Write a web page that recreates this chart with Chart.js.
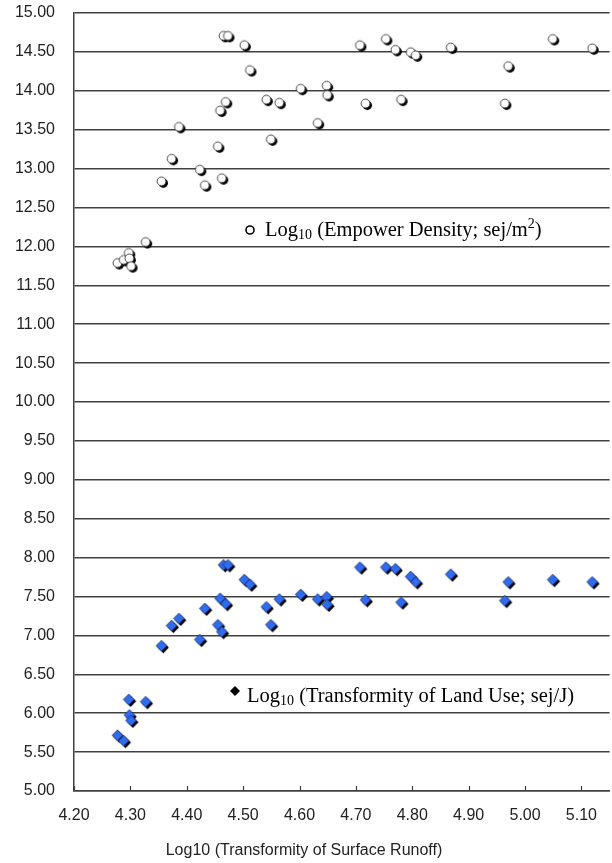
<!DOCTYPE html>
<html>
<head>
<meta charset="utf-8">
<script src="https://cdn.jsdelivr.net/npm/chart.js@4/dist/chart.umd.min.js"></script>
<style>
  body { margin: 0; background: #fff; }
  #wrap { width: 612px; height: 863px; }
</style>
</head>
<body>
<div id="wrap"><canvas id="scatterChart" width="612" height="863"></canvas></div>
<script>
// Log10 transformity of surface runoff (x), shared by both series
var runoff = [4.278, 4.289, 4.298, 4.299, 4.302, 4.328, 4.356, 4.374, 4.387, 4.424,
  4.433, 4.456, 4.460, 4.463, 4.470, 4.466, 4.474, 4.503, 4.513, 4.542,
  4.550, 4.565, 4.603, 4.633, 4.649, 4.650, 4.708, 4.718, 4.754, 4.771,
  4.781, 4.798, 4.807, 4.869, 4.965, 4.971, 5.050, 5.120];
var empowerDensity = [11.78, 11.82, 11.91, 11.84, 11.74, 12.05, 12.83, 13.12, 13.53, 12.98,
  12.78, 13.28, 13.74, 12.87, 13.85, 14.70, 14.70, 14.58, 14.26, 13.88,
  13.37, 13.84, 14.02, 13.58, 14.06, 13.94, 14.58, 13.83, 14.66, 14.52,
  13.88, 14.49, 14.45, 14.55, 13.83, 14.31, 14.66, 14.54];
var landUseTransformity = [5.71, 5.64, 6.17, 5.97, 5.90, 6.14, 6.86, 7.12, 7.21, 6.94,
  7.34, 7.13, 7.47, 7.04, 7.40, 7.90, 7.90, 7.71, 7.65, 7.36,
  7.13, 7.46, 7.52, 7.46, 7.49, 7.39, 7.87, 7.45, 7.87, 7.85,
  7.42, 7.75, 7.68, 7.78, 7.44, 7.68, 7.71, 7.68];
var xTicks = [4.20, 4.30, 4.40, 4.50, 4.60, 4.70, 4.80, 4.90, 5.00, 5.10];
var xTitle = 'Log10 (Transformity of Surface Runoff)';

var gridColor = '#404040';

function toPoints(xs, ys) {
  return xs.map(function(x, i) { return { x: x, y: ys[i] }; });
}

// marker images with a dark drop shadow like the original
function circleMarker() {
  var c = document.createElement('canvas');
  c.width = 14; c.height = 14;
  var g = c.getContext('2d');
  g.fillStyle = '#000';
  g.beginPath(); g.arc(8.3, 8.3, 4.7, 0, Math.PI * 2); g.fill();
  g.fillStyle = '#fff';
  g.strokeStyle = '#333';
  g.lineWidth = 0.9;
  g.beginPath(); g.arc(6.5, 6.5, 4.4, 0, Math.PI * 2); g.fill(); g.stroke();
  return c;
}

function diamondMarker() {
  var c = document.createElement('canvas');
  c.width = 16; c.height = 16;
  var g = c.getContext('2d');
  function diamond(cx, cy, r) {
    g.beginPath();
    g.moveTo(cx, cy - r); g.lineTo(cx + r, cy); g.lineTo(cx, cy + r); g.lineTo(cx - r, cy);
    g.closePath();
  }
  g.fillStyle = '#000';
  diamond(9.3, 9.3, 5.6); g.fill();
  g.fillStyle = '#2f6cf0';
  g.strokeStyle = '#1a2a60';
  g.lineWidth = 0.8;
  diamond(7.5, 7.5, 5.4); g.fill(); g.stroke();
  return c;
}

function drawRich(ctx, parts, x, y) {
  parts.forEach(function(p) {
    ctx.font = p.size + 'px "Liberation Serif", "Times New Roman", serif';
    ctx.fillText(p.t, x, y + (p.dy || 0));
    x += ctx.measureText(p.t).width;
  });
}

var extras = {
  id: 'extras',
  afterDraw: function(chart) {
    var ctx = chart.ctx;
    var area = chart.chartArea;
    var xs = chart.scales.x;
    ctx.save();
    // inward tick marks on the x axis
    ctx.strokeStyle = gridColor;
    ctx.lineWidth = 1.2;
    xTicks.forEach(function(v) {
      var px = Math.round(xs.getPixelForValue(v)) + 0.5;
      ctx.beginPath();
      ctx.moveTo(px, area.bottom);
      ctx.lineTo(px, area.bottom - 5);
      ctx.stroke();
    });

    // in-plot legend labels
    ctx.fillStyle = '#000';
    ctx.textBaseline = 'alphabetic';
    ctx.textAlign = 'left';
    ctx.lineWidth = 1.6;
    ctx.strokeStyle = '#000';
    ctx.beginPath();
    ctx.arc(area.left + 176, area.top + 217, 4, 0, Math.PI * 2);
    ctx.stroke();
    drawRich(ctx, [
      { t: 'Log', size: 20.5 },
      { t: '10', size: 14, dy: 3 },
      { t: ' (Empower Density; sej/m', size: 20.5 },
      { t: '2', size: 14, dy: -8 },
      { t: ')', size: 20.5 }
    ], area.left + 191, area.top + 223);

    var dx = area.left + 161, dy = area.top + 678;
    ctx.beginPath();
    ctx.moveTo(dx, dy - 5); ctx.lineTo(dx + 5, dy); ctx.lineTo(dx, dy + 5); ctx.lineTo(dx - 5, dy);
    ctx.closePath();
    ctx.fill();
    drawRich(ctx, [
      { t: 'Log', size: 20.5 },
      { t: '10', size: 14, dy: 3 },
      { t: ' (Transformity of Land Use; sej/J)', size: 20.5 }
    ], area.left + 173, area.top + 689);

    // x axis title
    ctx.font = '16px "Liberation Sans", Arial, sans-serif';
    ctx.textAlign = 'center';
    ctx.fillStyle = '#222';
    ctx.fillText(xTitle, area.left + 230, area.bottom + 64);
    ctx.restore();
  }
};

var ctx = document.getElementById('scatterChart');
var scatterChart = new Chart(ctx, {
  type: 'scatter',
  data: {
    datasets: [{
      label: 'Log10 (Empower Density; sej/m2)',
      data: toPoints(runoff, empowerDensity),
      pointStyle: circleMarker(),
      pointRadius: 6
    }, {
      label: 'Log10 (Transformity of Land Use; sej/J)',
      data: toPoints(runoff, landUseTransformity),
      pointStyle: diamondMarker(),
      pointRadius: 7
    }]
  },
  options: {
    responsive: false,
    animation: false,
    layout: { autoPadding: false, padding: { left: 0, top: 13, right: 0, bottom: 0 } },
    plugins: { legend: { display: false }, tooltip: { enabled: false } },
    scales: {
      x: {
        type: 'linear',
        min: 4.2,
        max: 5.15,
        afterBuildTicks: function(scale) {
          scale.ticks = xTicks.map(function(v) { return { value: v }; });
        },
        afterFit: function(scale) { scale.height = 72; },
        ticks: {
          autoSkip: false,
          maxRotation: 0,
          padding: 15,
          color: '#222',
          font: { family: '"Liberation Sans", Arial, sans-serif', size: 16 },
          callback: function(v) { return Number(v).toFixed(2); }
        },
        grid: { display: false, drawTicks: false },
        border: { display: true, color: gridColor, width: 1.5 }
      },
      y: {
        min: 5,
        max: 15,
        afterFit: function(scale) { scale.width = 74; },
        ticks: {
          stepSize: 0.5,
          padding: 0,
          color: '#222',
          font: { family: '"Liberation Sans", Arial, sans-serif', size: 16 },
          callback: function(v) { return Number(v).toFixed(2); }
        },
        grid: { color: gridColor, lineWidth: 1.5, drawTicks: true, tickLength: 19, tickColor: 'rgba(0,0,0,0)' },
        border: { display: true, color: gridColor, width: 1.5 }
      }
    }
  },
  plugins: [extras]
});
</script>
</body>
</html>
